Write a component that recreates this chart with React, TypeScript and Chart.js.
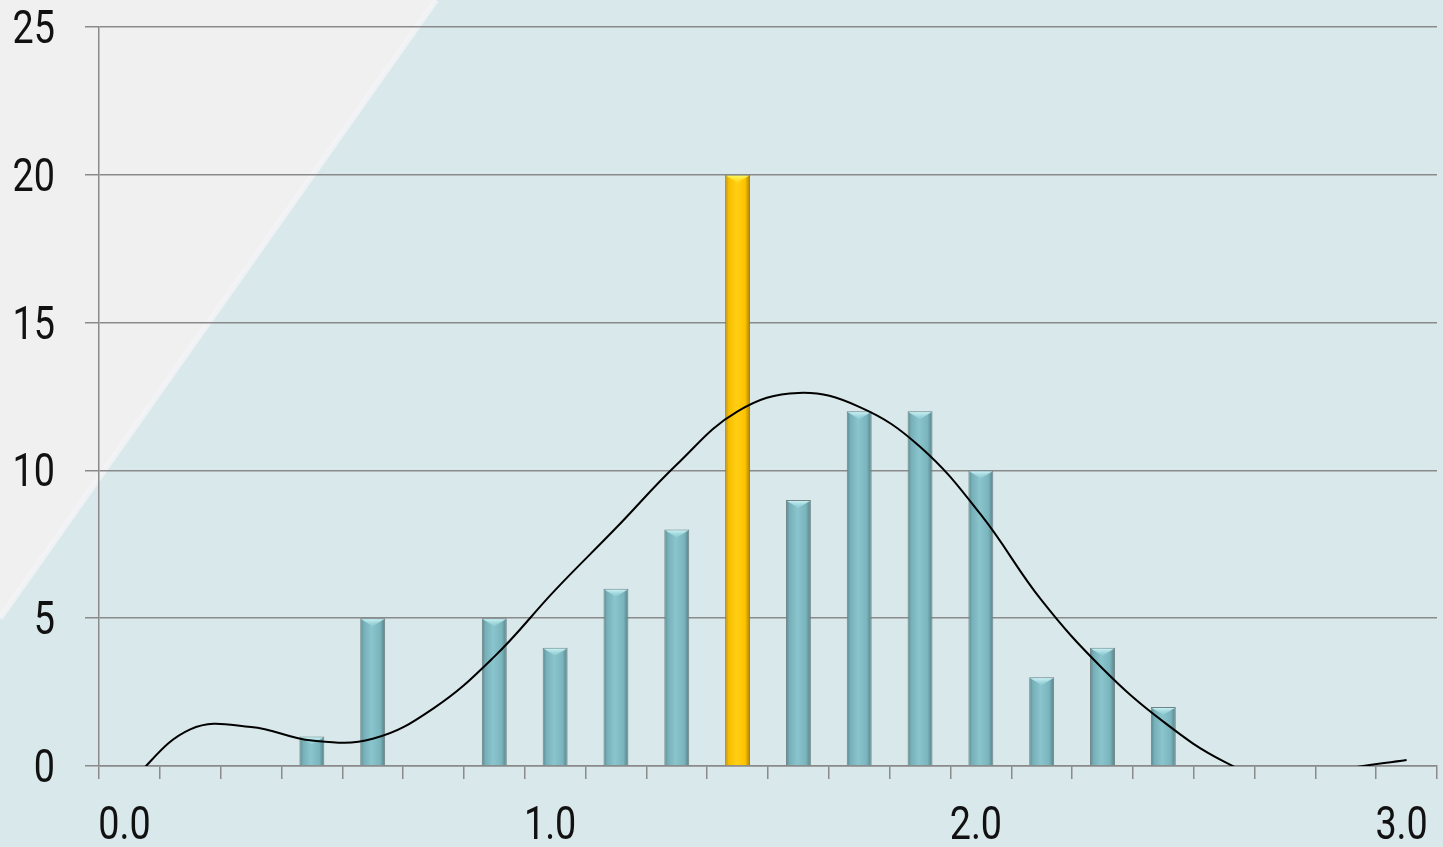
import { useEffect, useRef } from 'react';
import { Chart, registerables } from 'chart.js';

Chart.register(...registerables);

// Histogram bins (bin starts, width 1/7)
const binLabels = [
  '0.00', '0.14', '0.29', '0.43', '0.57', '0.71', '0.86',
  '1.00', '1.14', '1.29', '1.43', '1.57', '1.71', '1.86',
  '2.00', '2.14', '2.29', '2.43', '2.57', '2.71', '2.86', '3.00',
];

// Axis labels shown under the bins
const tickLabels = [
  '0.0', '', '', '', '', '', '',
  '1.0', '', '', '', '', '', '',
  '2.0', '', '', '', '', '', '',
  '3.0',
];

// Frequency per bin (empty bins are null)
const counts = [
  null, null, null, 1, 5, null, 5, 4, 6, 8, 20, 9, 12, 12, 10, 3, 4, 2, null, null, null, null,
];

// Bin drawn in gold
const highlightBin = 10;

// Smoothed density curve, sampled at each bin centre
const densityCurve = [
  -0.55, 1.24, 1.32, 0.86, 0.92, 1.95, 3.7, 5.95, 8.05, 10.2, 12.0, 12.62, 12.15, 10.8, 8.5, 5.6,
  3.3, 1.5, 0.15, -0.6, -0.1, 0.2,
];

const yTicks = [0, 5, 10, 15, 20, 25];

const FONT_FAMILY = "Roboto, 'DejaVu Sans Condensed', sans-serif";
const LABEL_FONT = `400 46px ${FONT_FAMILY}`;
const LABEL_SQUEEZE = 0.82;
const GRID = '#8a8a8a';
const BAR_FRACTION = 0.41;

const tealStops: [number, string][] = [
  [0, '#56878f'],
  [0.14, '#76afb7'],
  [0.45, '#8ac4cc'],
  [0.8, '#7ab4bc'],
  [1, '#557f86'],
];
const goldStops: [number, string][] = [
  [0, '#b98d00'],
  [0.14, '#f7bd00'],
  [0.45, '#ffcf14'],
  [0.8, '#ffc400'],
  [1, '#a88000'],
];

function barFill(ctx: any) {
  const chart = ctx.chart;
  const isGold = ctx.dataIndex === highlightBin;
  const stops = isGold ? goldStops : tealStops;
  const xs = chart.scales?.x;
  if (ctx.type !== 'data' || !xs || !chart.chartArea) return stops[2][1];
  const cx = xs.getPixelForValue(ctx.dataIndex);
  const w = (xs.width / binLabels.length) * BAR_FRACTION;
  const g = chart.ctx.createLinearGradient(cx - w / 2, 0, cx + w / 2, 0);
  stops.forEach(([o, c]) => g.addColorStop(o, c));
  return g;
}

const backdrop = {
  id: 'backdrop',
  beforeDraw(chart: any) {
    const { ctx, width, height } = chart;
    ctx.save();
    ctx.fillStyle = '#d9e8ea';
    ctx.fillRect(0, 0, width, height);
    ctx.beginPath();
    ctx.moveTo(0, 0);
    ctx.lineTo(436, 0);
    ctx.lineTo(0, 618);
    ctx.closePath();
    ctx.fillStyle = '#f0f0f0';
    ctx.fill();
    // soft edge along the diagonal
    ctx.strokeStyle = 'rgba(244,244,246,0.8)';
    ctx.lineWidth = 6;
    ctx.beginPath();
    ctx.moveTo(436, 0);
    ctx.lineTo(0, 618);
    ctx.stroke();
    ctx.restore();
  },
};

const bevelCaps = {
  id: 'bevelCaps',
  afterDatasetDraw(chart: any, args: any) {
    if (args.index !== 0) return;
    const { ctx } = chart;
    const meta = chart.getDatasetMeta(0);
    ctx.save();
    meta.data.forEach((el: any, i: number) => {
      if (counts[i] == null) return;
      const { x, y, width } = el.getProps(['x', 'y', 'width'], true);
      const l = x - width / 2 + 1;
      const r = x + width / 2 - 1;
      const h = 8;
      const gold = i === highlightBin;
      const g = ctx.createLinearGradient(0, y, 0, y + h);
      g.addColorStop(0, gold ? 'rgba(255,255,110,1)' : 'rgba(215,250,252,1)');
      g.addColorStop(1, gold ? 'rgba(255,230,40,0.3)' : 'rgba(160,220,226,0.3)');
      ctx.fillStyle = g;
      ctx.beginPath();
      ctx.moveTo(l, y + 1);
      ctx.lineTo(r, y + 1);
      ctx.lineTo(x, y + h);
      ctx.closePath();
      ctx.fill();
    });
    ctx.restore();
  },
};

// Tick labels in a narrow face, drawn against the scales' own pixels
const axisText = {
  id: 'axisText',
  afterDraw(chart: any) {
    const { ctx } = chart;
    const xs = chart.scales.x;
    const ys = chart.scales.y;
    ctx.save();
    ctx.fillStyle = '#111111';
    ctx.font = LABEL_FONT;
    ctx.textBaseline = 'alphabetic';
    yTicks.forEach((v) => {
      const py = ys.getPixelForValue(v);
      ctx.save();
      ctx.translate(ys.right - 44, py + 16);
      ctx.scale(LABEL_SQUEEZE, 1);
      ctx.textAlign = 'right';
      ctx.fillText(String(v), 0, 0);
      ctx.restore();
    });
    tickLabels.forEach((t, i) => {
      if (!t) return;
      const px = xs.getPixelForValue(i) - 5;
      ctx.save();
      ctx.translate(px, xs.top + 73);
      ctx.scale(LABEL_SQUEEZE, 1);
      ctx.textAlign = 'center';
      ctx.fillText(t, 0, 0);
      ctx.restore();
    });
    ctx.restore();
  },
};

export default function App() {
  const canvasRef = useRef<HTMLCanvasElement | null>(null);

  useEffect(() => {
    document.body.style.margin = '0';
    const canvas = canvasRef.current;
    if (!canvas) return;
    const chart = new Chart(canvas, {
      type: 'bar',
      data: {
        labels: binLabels,
        datasets: [
          {
            type: 'bar',
            data: counts as any,
            backgroundColor: barFill as any,
            borderColor: '#6e8386',
            borderWidth: 1,
            barPercentage: BAR_FRACTION,
            categoryPercentage: 1,
            order: 1,
          },
          {
            type: 'line',
            data: densityCurve,
            borderColor: '#000000',
            borderWidth: 2,
            pointRadius: 0,
            tension: 0.4,
            fill: false,
            order: 0,
          },
        ],
      },
      options: {
        responsive: false,
        animation: false,
        devicePixelRatio: 1,
        layout: { padding: { top: 27, right: 6, left: 0, bottom: 0 } },
        plugins: {
          legend: { display: false },
          tooltip: { enabled: false },
        },
        scales: {
          x: {
            type: 'category',
            offset: true,
            grid: {
              offset: true,
              drawOnChartArea: false,
              drawTicks: true,
              tickLength: 13,
              color: GRID,
              lineWidth: 1.5,
            },
            border: { display: true, color: GRID, width: 1.5 },
            ticks: { display: false, autoSkip: false },
            afterFit: (scale: any) => {
              scale.height = 81;
            },
          },
          y: {
            min: 0,
            max: 25,
            afterBuildTicks: (scale: any) => {
              scale.ticks = yTicks.map((v) => ({ value: v }));
            },
            grid: {
              color: GRID,
              lineWidth: 1.5,
              tickLength: 14,
            },
            border: { display: true, color: GRID, width: 1.5 },
            ticks: { display: false },
            afterFit: (scale: any) => {
              scale.width = 99;
            },
          },
        },
      },
      plugins: [backdrop, bevelCaps, axisText],
    });
    return () => chart.destroy();
  }, []);

  return (
    <div style={{ width: 1443, height: 847 }}>
      <canvas ref={canvasRef} width={1443} height={847} />
    </div>
  );
}
